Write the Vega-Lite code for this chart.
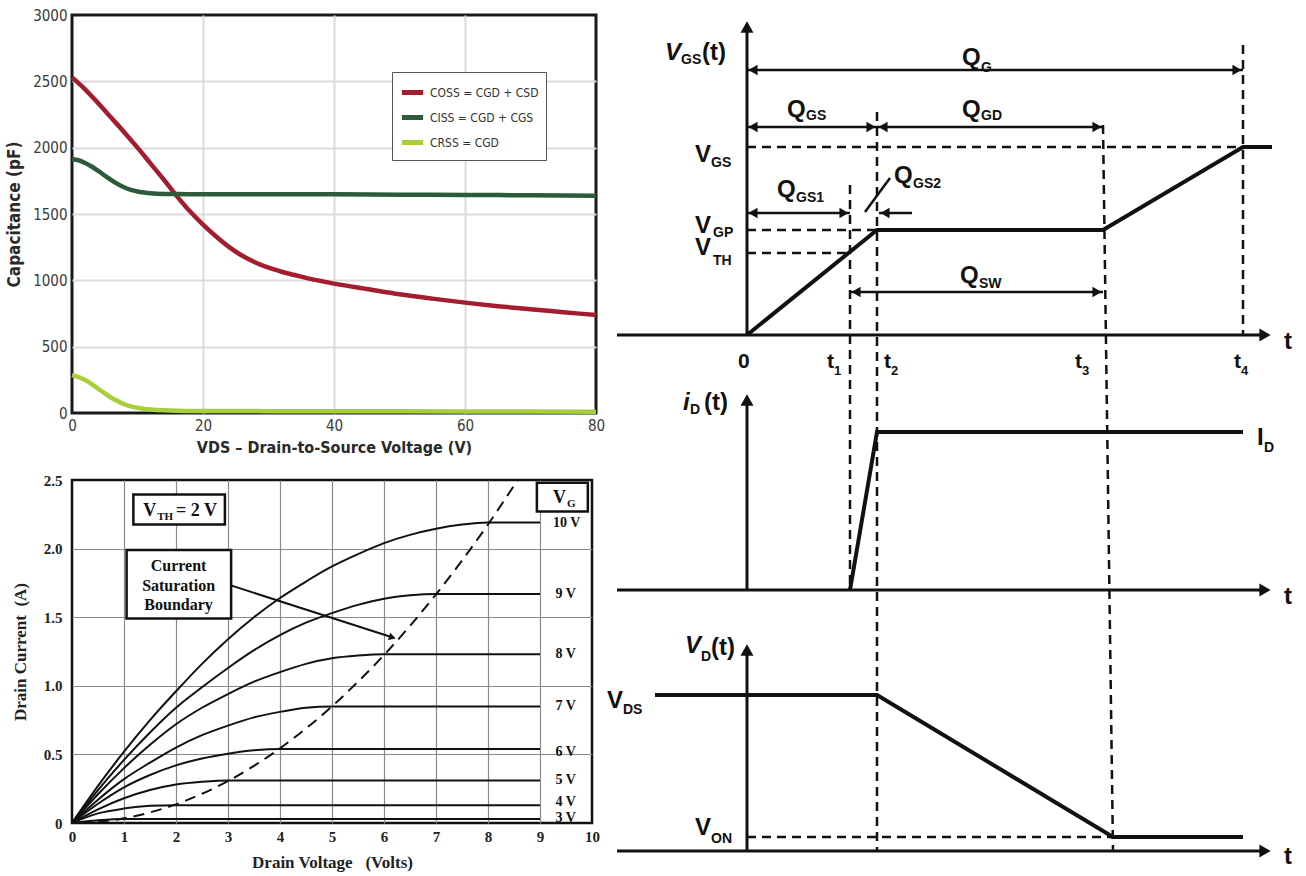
{
"$schema": "https://vega.github.io/schema/vega-lite/v6.json",
"background": "white",
"padding": {"left": 4, "top": 6, "right": 0, "bottom": 0},
"config": {"font": "Liberation Sans", "axis": {"ticks": false, "domain": false}},
"datasets": {
"cap": [
{"series":"COSS = CGD + CSD","vds":0,"c":2530},{"series":"COSS = CGD + CSD","vds":2,"c":2440},{"series":"COSS = CGD + CSD","vds":4,"c":2335},{"series":"COSS = CGD + CSD","vds":6,"c":2225},{"series":"COSS = CGD + CSD","vds":8,"c":2115},{"series":"COSS = CGD + CSD","vds":10,"c":2000},{"series":"COSS = CGD + CSD","vds":12,"c":1880},{"series":"COSS = CGD + CSD","vds":14,"c":1760},{"series":"COSS = CGD + CSD","vds":16,"c":1635},{"series":"COSS = CGD + CSD","vds":18,"c":1520},{"series":"COSS = CGD + CSD","vds":20,"c":1420},{"series":"COSS = CGD + CSD","vds":22,"c":1330},{"series":"COSS = CGD + CSD","vds":24,"c":1250},{"series":"COSS = CGD + CSD","vds":26,"c":1185},{"series":"COSS = CGD + CSD","vds":28,"c":1135},{"series":"COSS = CGD + CSD","vds":30,"c":1095},{"series":"COSS = CGD + CSD","vds":32,"c":1065},{"series":"COSS = CGD + CSD","vds":34,"c":1040},{"series":"COSS = CGD + CSD","vds":36,"c":1015},{"series":"COSS = CGD + CSD","vds":38,"c":995},{"series":"COSS = CGD + CSD","vds":40,"c":975},{"series":"COSS = CGD + CSD","vds":45,"c":935},{"series":"COSS = CGD + CSD","vds":50,"c":895},{"series":"COSS = CGD + CSD","vds":55,"c":862},{"series":"COSS = CGD + CSD","vds":60,"c":832},{"series":"COSS = CGD + CSD","vds":65,"c":805},{"series":"COSS = CGD + CSD","vds":70,"c":782},{"series":"COSS = CGD + CSD","vds":75,"c":760},{"series":"COSS = CGD + CSD","vds":80,"c":738},
{"series":"CISS = CGD + CGS","vds":0,"c":1915},{"series":"CISS = CGD + CGS","vds":1,"c":1905},{"series":"CISS = CGD + CGS","vds":2,"c":1885},{"series":"CISS = CGD + CGS","vds":3,"c":1858},{"series":"CISS = CGD + CGS","vds":4,"c":1825},{"series":"CISS = CGD + CGS","vds":5,"c":1790},{"series":"CISS = CGD + CGS","vds":6,"c":1755},{"series":"CISS = CGD + CGS","vds":7,"c":1725},{"series":"CISS = CGD + CGS","vds":8,"c":1700},{"series":"CISS = CGD + CGS","vds":9,"c":1682},{"series":"CISS = CGD + CGS","vds":10,"c":1670},{"series":"CISS = CGD + CGS","vds":11,"c":1662},{"series":"CISS = CGD + CGS","vds":12,"c":1656},{"series":"CISS = CGD + CGS","vds":14,"c":1651},{"series":"CISS = CGD + CGS","vds":16,"c":1650},{"series":"CISS = CGD + CGS","vds":20,"c":1649},{"series":"CISS = CGD + CGS","vds":30,"c":1648},{"series":"CISS = CGD + CGS","vds":40,"c":1648},{"series":"CISS = CGD + CGS","vds":50,"c":1646},{"series":"CISS = CGD + CGS","vds":60,"c":1644},{"series":"CISS = CGD + CGS","vds":70,"c":1641},{"series":"CISS = CGD + CGS","vds":80,"c":1638},
{"series":"CRSS = CGD","vds":0,"c":285},{"series":"CRSS = CGD","vds":1,"c":270},{"series":"CRSS = CGD","vds":2,"c":248},{"series":"CRSS = CGD","vds":3,"c":218},{"series":"CRSS = CGD","vds":4,"c":183},{"series":"CRSS = CGD","vds":5,"c":148},{"series":"CRSS = CGD","vds":6,"c":115},{"series":"CRSS = CGD","vds":7,"c":88},{"series":"CRSS = CGD","vds":8,"c":66},{"series":"CRSS = CGD","vds":9,"c":50},{"series":"CRSS = CGD","vds":10,"c":39},{"series":"CRSS = CGD","vds":11,"c":31},{"series":"CRSS = CGD","vds":12,"c":26},{"series":"CRSS = CGD","vds":14,"c":20},{"series":"CRSS = CGD","vds":16,"c":17},{"series":"CRSS = CGD","vds":20,"c":15},{"series":"CRSS = CGD","vds":30,"c":14},{"series":"CRSS = CGD","vds":40,"c":13},{"series":"CRSS = CGD","vds":60,"c":12},{"series":"CRSS = CGD","vds":80,"c":10}
],
"iv": [
{"vg":"10 V","vd":0,"id":0},{"vg":"10 V","vd":0.5,"id":0.27},{"vg":"10 V","vd":1,"id":0.52},{"vg":"10 V","vd":1.5,"id":0.75},{"vg":"10 V","vd":2,"id":0.96},{"vg":"10 V","vd":2.5,"id":1.16},{"vg":"10 V","vd":3,"id":1.34},{"vg":"10 V","vd":3.5,"id":1.5},{"vg":"10 V","vd":4,"id":1.64},{"vg":"10 V","vd":4.5,"id":1.76},{"vg":"10 V","vd":5,"id":1.87},{"vg":"10 V","vd":5.5,"id":1.96},{"vg":"10 V","vd":6,"id":2.04},{"vg":"10 V","vd":6.5,"id":2.1},{"vg":"10 V","vd":7,"id":2.145},{"vg":"10 V","vd":7.5,"id":2.175},{"vg":"10 V","vd":8,"id":2.19},{"vg":"10 V","vd":9,"id":2.19},
{"vg":"9 V","vd":0,"id":0},{"vg":"9 V","vd":0.5,"id":0.24},{"vg":"9 V","vd":1,"id":0.46},{"vg":"9 V","vd":1.5,"id":0.66},{"vg":"9 V","vd":2,"id":0.84},{"vg":"9 V","vd":2.5,"id":0.99},{"vg":"9 V","vd":3,"id":1.13},{"vg":"9 V","vd":3.5,"id":1.26},{"vg":"9 V","vd":4,"id":1.37},{"vg":"9 V","vd":4.5,"id":1.46},{"vg":"9 V","vd":5,"id":1.53},{"vg":"9 V","vd":5.5,"id":1.59},{"vg":"9 V","vd":6,"id":1.635},{"vg":"9 V","vd":6.5,"id":1.66},{"vg":"9 V","vd":7,"id":1.67},{"vg":"9 V","vd":9,"id":1.67},
{"vg":"8 V","vd":0,"id":0},{"vg":"8 V","vd":0.5,"id":0.21},{"vg":"8 V","vd":1,"id":0.4},{"vg":"8 V","vd":1.5,"id":0.57},{"vg":"8 V","vd":2,"id":0.72},{"vg":"8 V","vd":2.5,"id":0.84},{"vg":"8 V","vd":3,"id":0.94},{"vg":"8 V","vd":3.5,"id":1.03},{"vg":"8 V","vd":4,"id":1.1},{"vg":"8 V","vd":4.5,"id":1.16},{"vg":"8 V","vd":5,"id":1.2},{"vg":"8 V","vd":5.5,"id":1.22},{"vg":"8 V","vd":6,"id":1.23},{"vg":"8 V","vd":9,"id":1.23},
{"vg":"7 V","vd":0,"id":0},{"vg":"7 V","vd":0.5,"id":0.17},{"vg":"7 V","vd":1,"id":0.32},{"vg":"7 V","vd":1.5,"id":0.44},{"vg":"7 V","vd":2,"id":0.55},{"vg":"7 V","vd":2.5,"id":0.64},{"vg":"7 V","vd":3,"id":0.71},{"vg":"7 V","vd":3.5,"id":0.77},{"vg":"7 V","vd":4,"id":0.81},{"vg":"7 V","vd":4.5,"id":0.84},{"vg":"7 V","vd":5,"id":0.85},{"vg":"7 V","vd":9,"id":0.85},
{"vg":"6 V","vd":0,"id":0},{"vg":"6 V","vd":0.5,"id":0.14},{"vg":"6 V","vd":1,"id":0.26},{"vg":"6 V","vd":1.5,"id":0.35},{"vg":"6 V","vd":2,"id":0.42},{"vg":"6 V","vd":2.5,"id":0.47},{"vg":"6 V","vd":3,"id":0.505},{"vg":"6 V","vd":3.5,"id":0.53},{"vg":"6 V","vd":4,"id":0.54},{"vg":"6 V","vd":9,"id":0.54},
{"vg":"5 V","vd":0,"id":0},{"vg":"5 V","vd":0.5,"id":0.1},{"vg":"5 V","vd":1,"id":0.18},{"vg":"5 V","vd":1.5,"id":0.24},{"vg":"5 V","vd":2,"id":0.28},{"vg":"5 V","vd":2.5,"id":0.3},{"vg":"5 V","vd":3,"id":0.31},{"vg":"5 V","vd":9,"id":0.31},
{"vg":"4 V","vd":0,"id":0},{"vg":"4 V","vd":0.5,"id":0.07},{"vg":"4 V","vd":1,"id":0.105},{"vg":"4 V","vd":1.5,"id":0.125},{"vg":"4 V","vd":2,"id":0.13},{"vg":"4 V","vd":9,"id":0.13},
{"vg":"3 V","vd":0,"id":0},{"vg":"3 V","vd":0.5,"id":0.02},{"vg":"3 V","vd":1,"id":0.03},{"vg":"3 V","vd":9,"id":0.03}
],
"boundary": [
{"vd":0.5,"id":0.0085},{"vd":1,"id":0.034},{"vd":1.5,"id":0.077},{"vd":2,"id":0.136},{"vd":2.5,"id":0.213},{"vd":3,"id":0.306},{"vd":3.5,"id":0.417},{"vd":4,"id":0.544},{"vd":4.5,"id":0.689},{"vd":5,"id":0.85},{"vd":5.5,"id":1.03},{"vd":6,"id":1.224},{"vd":6.5,"id":1.437},{"vd":7,"id":1.666},{"vd":7.5,"id":1.913},{"vd":8,"id":2.176},{"vd":8.57,"id":2.5}
],
"vglabels": [
{"vd":9.25,"id":2.19,"label":"10 V"},{"vd":9.3,"id":1.67,"label":"9 V"},{"vd":9.3,"id":1.23,"label":"8 V"},{"vd":9.3,"id":0.85,"label":"7 V"},{"vd":9.3,"id":0.52,"label":"6 V"},{"vd":9.3,"id":0.31,"label":"5 V"},{"vd":9.3,"id":0.15,"label":"4 V"},{"vd":9.3,"id":0.04,"label":"3 V"}
],
"boxes": [
{"x1":1.18,"x2":2.94,"y1":2.175,"y2":2.395},{"x1":1.05,"x2":3.06,"y1":1.49,"y2":1.99},{"x1":8.94,"x2":9.92,"y1":2.27,"y2":2.48}
],
"boxMain": [
{"vd":1.37,"id":2.235,"label":"V"},{"vd":2.0,"id":2.235,"label":"= 2 V"},{"vd":9.25,"id":2.33,"label":"V"}
],
"boxSub": [
{"vd":1.64,"id":2.205,"label":"TH"},{"vd":9.52,"id":2.305,"label":"G"}
],
"boxLines": [
{"vd":2.05,"id":1.87,"label":"Current"},{"vd":2.05,"id":1.73,"label":"Saturation"},{"vd":2.05,"id":1.59,"label":"Boundary"}
],
"leader": [{"vd":3.07,"id":1.73},{"vd":6.2,"id":1.348}],
"leaderHead": [{"vd":6.16,"id":1.353}],
"wave": [
{"id":"vgs","ord":1,"t":0,"v":53.5},{"id":"vgs","ord":2,"t":2.6,"v":64.0},{"id":"vgs","ord":3,"t":7.12,"v":64.0},{"id":"vgs","ord":4,"t":9.92,"v":72.3},{"id":"vgs","ord":5,"t":10.5,"v":72.3},
{"id":"id","ord":1,"t":2.06,"v":28},{"id":"id","ord":2,"t":2.6,"v":43.8},{"id":"id","ord":3,"t":9.92,"v":43.8},
{"id":"vd","ord":1,"t":-1.84,"v":17.5},{"id":"vd","ord":2,"t":2.6,"v":17.5},{"id":"vd","ord":3,"t":7.32,"v":3.3},{"id":"vd","ord":4,"t":9.92,"v":3.3}
],
"axes": [
{"id":"h1","ord":1,"t":-2.6,"v":53.5},{"id":"h1","ord":2,"t":10.3,"v":53.5},
{"id":"v1","ord":1,"t":0,"v":53.5},{"id":"v1","ord":2,"t":0,"v":84.3},
{"id":"h2","ord":1,"t":-2.6,"v":28},{"id":"h2","ord":2,"t":10.3,"v":28},
{"id":"v2","ord":1,"t":0,"v":28},{"id":"v2","ord":2,"t":0,"v":47.0},
{"id":"h3","ord":1,"t":-2.6,"v":1.9},{"id":"h3","ord":2,"t":10.3,"v":1.9},
{"id":"v3","ord":1,"t":0,"v":1.9},{"id":"v3","ord":2,"t":0,"v":22.0}
],
"headsR": [{"t":10.36,"v":53.5},{"t":10.36,"v":28},{"t":10.36,"v":1.9}],
"headsU": [{"t":0,"v":84.3},{"t":0,"v":47.0},{"t":0,"v":22.0}],
"dashed": [
{"id":"t1","ord":1,"t":2.06,"v":68.5},{"id":"t1","ord":2,"t":2.06,"v":28},
{"id":"t2","ord":1,"t":2.6,"v":75.8},{"id":"t2","ord":2,"t":2.6,"v":1.9},
{"id":"t3","ord":1,"t":7.12,"v":74.5},{"id":"t3","ord":2,"t":7.32,"v":1.9},
{"id":"t4","ord":1,"t":9.92,"v":82.5},{"id":"t4","ord":2,"t":9.92,"v":53.5},
{"id":"lvgs","ord":1,"t":0,"v":72.3},{"id":"lvgs","ord":2,"t":9.92,"v":72.3},
{"id":"lvgp","ord":1,"t":0,"v":64.0},{"id":"lvgp","ord":2,"t":2.6,"v":64.0},
{"id":"lvth","ord":1,"t":0,"v":61.7},{"id":"lvth","ord":2,"t":2.06,"v":61.7},
{"id":"lvon","ord":1,"t":0,"v":3.3},{"id":"lvon","ord":2,"t":7.32,"v":3.3}
],
"dims": [
{"id":"qg","ord":1,"t":0,"v":80},{"id":"qg","ord":2,"t":9.92,"v":80},
{"id":"qgs","ord":1,"t":0,"v":74.3},{"id":"qgs","ord":2,"t":2.6,"v":74.3},
{"id":"qgd","ord":1,"t":2.6,"v":74.3},{"id":"qgd","ord":2,"t":7.12,"v":74.3},
{"id":"qgs1","ord":1,"t":0,"v":65.7},{"id":"qgs1","ord":2,"t":2.06,"v":65.7},
{"id":"qgs2","ord":1,"t":2.64,"v":65.7},{"id":"qgs2","ord":2,"t":3.3,"v":65.7},
{"id":"slant","ord":1,"t":2.36,"v":65.8},{"id":"slant","ord":2,"t":2.86,"v":69.2},
{"id":"qsw","ord":1,"t":2.06,"v":57.8},{"id":"qsw","ord":2,"t":7.12,"v":57.8}
],
"dimL": [{"t":0.12,"v":80},{"t":0.12,"v":74.3},{"t":2.72,"v":74.3},{"t":0.12,"v":65.7},{"t":2.76,"v":65.7},{"t":2.18,"v":57.8}],
"dimR": [{"t":9.8,"v":80},{"t":2.48,"v":74.3},{"t":7.0,"v":74.3},{"t":1.94,"v":65.7},{"t":7.0,"v":57.8}],
"txtMain": [
{"t":-1.04,"v":70.8,"label":"V"},{"t":-1.04,"v":63.7,"label":"V"},{"t":-1.04,"v":61.5,"label":"V"},
{"t":4.3,"v":80.5,"label":"Q"},{"t":0.8,"v":75.3,"label":"Q"},{"t":4.3,"v":75.3,"label":"Q"},{"t":0.6,"v":67.3,"label":"Q"},{"t":2.94,"v":68.7,"label":"Q"},{"t":4.26,"v":58.7,"label":"Q"},
{"t":-2.8,"v":16.2,"label":"V"},{"t":-1.04,"v":3.5,"label":"V"},{"t":10.2,"v":42.5,"label":"I"},
{"t":-0.9,"v":81.0,"label":"(t)"},{"t":-0.86,"v":46.0,"label":"(t)"},{"t":-0.72,"v":21.5,"label":"(t)"},
{"t":10.74,"v":52.1,"label":"t"},{"t":10.74,"v":26.6,"label":"t"},{"t":10.74,"v":0.6,"label":"t"}
],
"txtItal": [
{"t":-1.64,"v":81.0,"label":"V"},{"t":-1.28,"v":46.0,"label":"i"},{"t":-1.24,"v":21.7,"label":"V"}
],
"txtSub": [
{"t":-1.32,"v":80.6,"label":"GS"},{"t":-0.72,"v":70.3,"label":"GS"},{"t":-0.68,"v":63.3,"label":"GP"},{"t":-0.68,"v":60.5,"label":"TH"},
{"t":4.68,"v":79.8,"label":"G"},{"t":1.18,"v":75.0,"label":"GS"},{"t":4.68,"v":75.0,"label":"GD"},{"t":0.98,"v":66.8,"label":"GS1"},{"t":3.32,"v":68.2,"label":"GS2"},{"t":4.64,"v":58.2,"label":"SW"},
{"t":-1.14,"v":45.6,"label":"D"},{"t":10.34,"v":41.8,"label":"D"},{"t":-0.92,"v":20.9,"label":"D"},{"t":-2.48,"v":15.6,"label":"DS"},{"t":-0.72,"v":2.7,"label":"ON"}
],
"txtTick": [
{"t":-0.18,"v":50.2,"label":"0"},{"t":1.6,"v":50.2,"label":"t"},{"t":2.74,"v":50.2,"label":"t"},{"t":6.56,"v":50.2,"label":"t"},{"t":9.74,"v":50.2,"label":"t"}
],
"txtTickSub": [
{"t":1.74,"v":49.5,"label":"1"},{"t":2.88,"v":49.5,"label":"2"},{"t":6.7,"v":49.5,"label":"3"},{"t":9.88,"v":49.5,"label":"4"}
]
},
"spacing": 0,
"hconcat": [
{
"spacing": 14,
"vconcat": [
{
"width": 524, "height": 398,
"view": {"stroke": "#1a1a1a", "strokeWidth": 3},
"data": {"name": "cap"},
"mark": {"type": "line", "strokeWidth": 4.5, "interpolate": "monotone"},
"encoding": {
"x": {"field": "vds", "type": "quantitative", "scale": {"domain": [0, 80], "nice": false},
"axis": {"values": [0, 20, 40, 60, 80], "grid": true, "gridColor": {"condition": {"test": "datum.value === 0 || datum.value === 80", "value": "transparent"}, "value": "#dcdcdc"}, "gridWidth": 2, "labelFlush": false,
"labelFont": "DejaVu Sans Condensed, sans-serif", "labelFontSize": 15, "labelColor": "#3a3a3a", "labelPadding": 5,
"title": "VDS – Drain-to-Source Voltage (V)", "titleFont": "DejaVu Sans Condensed, sans-serif", "titleFontSize": 16, "titleFontWeight": "bold", "titleColor": "#2a2a2a", "titlePadding": 6}},
"y": {"field": "c", "type": "quantitative", "scale": {"domain": [0, 3000], "nice": false},
"axis": {"values": [0, 500, 1000, 1500, 2000, 2500, 3000], "format": "d", "grid": true, "gridColor": {"condition": {"test": "datum.value === 0 || datum.value === 3000", "value": "transparent"}, "value": "#dcdcdc"}, "gridWidth": 2, "labelFlush": false,
"labelFont": "DejaVu Sans Condensed, sans-serif", "labelFontSize": 15, "labelColor": "#3a3a3a", "labelPadding": 5,
"title": "Capacitance (pF)", "titleFont": "DejaVu Sans Condensed, sans-serif", "titleFontSize": 17, "titleFontWeight": "bold", "titleColor": "#2a2a2a", "titlePadding": 9}},
"color": {"field": "series", "type": "nominal",
"scale": {"domain": ["COSS = CGD + CSD", "CISS = CGD + CGS", "CRSS = CGD"], "range": ["#a31d2e", "#2c5a3a", "#a6cf3b"]},
"legend": {"orient": "none", "legendX": 320, "legendY": 57, "title": null, "symbolType": "stroke", "symbolStrokeWidth": 5, "symbolSize": 450,
"labelFont": "DejaVu Sans Condensed, sans-serif", "labelFontSize": 12, "labelColor": "#333", "strokeColor": "#555", "fillColor": "white", "padding": 7, "rowPadding": 1}}
}
},
{
"width": 520, "height": 343,
"view": {"stroke": "#111", "strokeWidth": 2.5},
"encoding": {
"x": {"field": "vd", "type": "quantitative", "scale": {"domain": [0, 10], "nice": false},
"axis": {"values": [0,1,2,3,4,5,6,7,8,9,10], "grid": true, "gridColor": {"condition": {"test": "datum.value === 0 || datum.value === 10", "value": "transparent"}, "value": "#8a8a8a"}, "gridWidth": 1.2, "labelFlush": false,
"labelFont": "Liberation Serif", "labelFontWeight": "bold", "labelFontSize": 15, "labelColor": "#222", "labelPadding": 6,
"title": "Drain Voltage\u00a0\u00a0\u00a0(Volts)", "titleFont": "Liberation Serif", "titleFontSize": 17, "titleFontWeight": "bold", "titleColor": "#222", "titlePadding": 10}},
"y": {"field": "id", "type": "quantitative", "scale": {"domain": [0, 2.5], "nice": false},
"axis": {"values": [0, 0.5, 1, 1.5, 2, 2.5], "grid": true, "gridColor": {"condition": {"test": "datum.value === 0 || datum.value === 2.5", "value": "transparent"}, "value": "#8a8a8a"}, "gridWidth": 1.2, "labelFlush": false,
"labelExpr": "datum.value === 0 ? '0' : format(datum.value, '.1f')",
"labelFont": "Liberation Serif", "labelFontWeight": "bold", "labelFontSize": 15, "labelColor": "#222", "labelPadding": 10,
"title": "Drain Current\u00a0\u00a0(A)", "titleFont": "Liberation Serif", "titleFontSize": 17, "titleFontWeight": "bold", "titleColor": "#222", "titlePadding": 14}}
},
"layer": [
{"data": {"name": "iv"}, "mark": {"type": "line", "color": "#111", "strokeWidth": 2, "interpolate": "monotone"}, "encoding": {"detail": {"field": "vg"}}},
{"data": {"name": "boundary"}, "mark": {"type": "line", "color": "#111", "strokeWidth": 2, "strokeDash": [11, 7], "interpolate": "monotone"}, "encoding": {}},
{"data": {"name": "boxes"}, "mark": {"type": "rect", "fill": "white", "stroke": "#111", "strokeWidth": 2.5}, "encoding": {"x": {"field": "x1", "type": "quantitative"}, "x2": {"field": "x2"}, "y": {"field": "y1", "type": "quantitative"}, "y2": {"field": "y2"}}},
{"data": {"name": "vglabels"}, "mark": {"type": "text", "align": "left", "baseline": "middle", "font": "Liberation Serif", "fontWeight": "bold", "fontSize": 14, "color": "#111"}, "encoding": {"text": {"field": "label"}}},
{"data": {"name": "boxMain"}, "mark": {"type": "text", "align": "left", "baseline": "alphabetic", "font": "Liberation Serif", "fontWeight": "bold", "fontSize": 18, "color": "#111"}, "encoding": {"text": {"field": "label"}}},
{"data": {"name": "boxSub"}, "mark": {"type": "text", "align": "left", "baseline": "alphabetic", "font": "Liberation Serif", "fontWeight": "bold", "fontSize": 11, "color": "#111"}, "encoding": {"text": {"field": "label"}}},
{"data": {"name": "boxLines"}, "mark": {"type": "text", "align": "center", "baseline": "middle", "font": "Liberation Serif", "fontWeight": "bold", "fontSize": 16, "color": "#111"}, "encoding": {"text": {"field": "label"}}},
{"data": {"name": "leader"}, "mark": {"type": "line", "color": "#111", "strokeWidth": 2}, "encoding": {}},
{"data": {"name": "leaderHead"}, "mark": {"type": "point", "shape": "triangle-right", "filled": true, "color": "#111", "size": 60, "angle": 18, "opacity": 1}, "encoding": {}}
]
}
]
},
{
"width": 690, "height": 855,
"view": {"stroke": null},
"encoding": {
"x": {"field": "t", "type": "quantitative", "scale": {"domain": [-2.66, 11.14], "nice": false, "zero": false}, "axis": null},
"y": {"field": "v", "type": "quantitative", "scale": {"domain": [0, 85.5], "nice": false, "zero": false}, "axis": null}
},
"layer": [
{"data": {"name": "dashed"}, "mark": {"type": "line", "color": "#111", "strokeWidth": 2.5, "strokeDash": [9, 6]}, "encoding": {"detail": {"field": "id"}, "order": {"field": "ord"}}},
{"data": {"name": "axes"}, "mark": {"type": "line", "color": "#111", "strokeWidth": 3}, "encoding": {"detail": {"field": "id"}, "order": {"field": "ord"}}},
{"data": {"name": "wave"}, "mark": {"type": "line", "color": "#111", "strokeWidth": 4, "strokeJoin": "miter"}, "encoding": {"detail": {"field": "id"}, "order": {"field": "ord"}}},
{"data": {"name": "dims"}, "mark": {"type": "line", "color": "#111", "strokeWidth": 2.5}, "encoding": {"detail": {"field": "id"}, "order": {"field": "ord"}}},
{"data": {"name": "headsR"}, "mark": {"type": "point", "shape": "triangle-right", "filled": true, "color": "#111", "size": 170, "opacity": 1}, "encoding": {}},
{"data": {"name": "headsU"}, "mark": {"type": "point", "shape": "triangle-up", "filled": true, "color": "#111", "size": 170, "opacity": 1}, "encoding": {}},
{"data": {"name": "dimL"}, "mark": {"type": "point", "shape": "triangle-left", "filled": true, "color": "#111", "size": 110, "opacity": 1}, "encoding": {}},
{"data": {"name": "dimR"}, "mark": {"type": "point", "shape": "triangle-right", "filled": true, "color": "#111", "size": 110, "opacity": 1}, "encoding": {}},
{"data": {"name": "txtMain"}, "mark": {"type": "text", "align": "left", "baseline": "alphabetic", "font": "Liberation Sans", "fontWeight": "bold", "fontSize": 24, "color": "#111"}, "encoding": {"text": {"field": "label"}}},
{"data": {"name": "txtItal"}, "mark": {"type": "text", "align": "left", "baseline": "alphabetic", "font": "Liberation Sans", "fontWeight": "bold", "fontStyle": "italic", "fontSize": 24, "color": "#111"}, "encoding": {"text": {"field": "label"}}},
{"data": {"name": "txtSub"}, "mark": {"type": "text", "align": "left", "baseline": "alphabetic", "font": "Liberation Sans", "fontWeight": "bold", "fontSize": 14, "color": "#111"}, "encoding": {"text": {"field": "label"}}},
{"data": {"name": "txtTick"}, "mark": {"type": "text", "align": "left", "baseline": "alphabetic", "font": "Liberation Sans", "fontWeight": "bold", "fontSize": 21, "color": "#111"}, "encoding": {"text": {"field": "label"}}},
{"data": {"name": "txtTickSub"}, "mark": {"type": "text", "align": "left", "baseline": "alphabetic", "font": "Liberation Sans", "fontWeight": "bold", "fontSize": 13, "color": "#111"}, "encoding": {"text": {"field": "label"}}}
]
}
]
}
